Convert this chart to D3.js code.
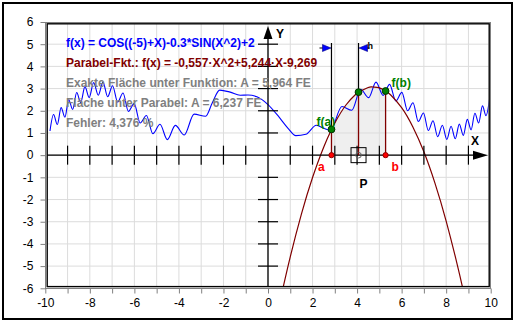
<!DOCTYPE html>
<meta charset="utf-8">
<script src="https://d3js.org/d3.v7.min.js"></script>
<style>
  body { margin: 0; background: #fff; }
  text { font-family: "Liberation Sans", Arial, sans-serif; }
</style>
<div id="chart"></div>
<script>

// function f(x), points (turning points of the wavy curve)
var funcX = [-9.79, -9.63, -9.46, -9.29, -9.12, -8.95, -8.77, -8.59, -8.41, -8.22,
             -8.03, -7.83, -7.62, -7.41, -7.20, -6.98, -6.75, -6.51, -6.27, -6.01,
             -5.74, -5.46, -5.17, -4.85, -4.52, -4.16, -3.76, -3.32, -2.80, -2.5,
             -2.17, -1.7, -1.25, -0.9, -0.5, 0, 0.5, 0.9, 1.25, 1.7,
             2.17, 2.5, 2.80, 3.32, 3.76, 4.16, 4.52, 4.85, 5.17, 5.46,
             5.74, 6.01, 6.27, 6.51, 6.75, 6.98, 7.20, 7.41, 7.62, 7.83,
             8.03, 8.22, 8.41, 8.59, 8.77, 8.95, 9.12, 9.29, 9.46, 9.63,
             9.79, 9.95];
var funcY = [1.09, 1.83, 1.38, 2.14, 1.71, 2.49, 2.06, 2.82, 2.37, 3.09,
             2.60, 3.27, 2.70, 3.29, 2.63, 3.13, 2.39, 2.80, 1.97, 2.32,
             1.45, 1.79, 0.97, 1.39, 0.70, 1.34, 0.91, 1.85, 1.75, 2.36,
             2.93, 2.84, 2.70, 2.71, 2.63, 2.28, 1.71, 1.21, 0.88, 0.94,
             1.35, 1.21, 1.11, 2.19, 2.02, 2.97, 2.59, 3.29, 2.69, 3.19,
             2.44, 2.83, 2.00, 2.36, 1.52, 1.90, 1.11, 1.55, 0.83, 1.35,
             0.71, 1.30, 0.74, 1.40, 0.89, 1.61, 1.14, 1.89, 1.45, 2.22,
             1.78, 2.54];

// parabola through f(a), f(P), f(b)
var parabX = [0.67, 1, 1.5, 2, 2.5, 2.85, 3, 3.5, 4, 4.065, 4.5, 4.7, 5, 5.28,
              5.5, 6, 6.5, 7, 7.5, 8, 8.5, 8.74];
var parabY = [-6.0, -4.58, -2.66, -1.01, 0.36, 1.15, 1.45, 2.26, 2.80, 2.84, 3.05, 3.07, 3.03, 2.89,
              2.72, 2.14, 1.28, 0.15, -1.27, -2.97, -4.94, -5.98];

// a, P (middle), b and their values
var pointNames = ["a", "P", "b"];
var pointX = [2.85, 4.065, 5.28];
var pointY = [1.16, 2.84, 2.89];

var xTicks = d3.range(-10, 11);
var yTicks = d3.range(-6, 7);

var infoLines = [
  "f(x) = COS((-5)+X)-0.3*SIN(X^2)+2",
  "Parabel-Fkt.: f(x) = -0,557·X^2+5,244·X-9,269",
  "Exakte Fläche unter Funktion: A = 5,964 FE",
  "Fläche unter Parabel: A = 6,237 FE",
  "Fehler: 4,376 %"
];
var infoColors = ["#0000ff", "#800000", "#808080", "#808080", "#808080"];

var width = 515, height = 324;

var svg = d3.select("#chart")
  .append("svg")
    .attr("width", width)
    .attr("height", height);

svg.append("rect").attr("width", width).attr("height", height).attr("fill", "#fff");
// outer border
svg.append("rect")
  .attr("x", 3).attr("y", 3).attr("width", 509).attr("height", 316)
  .attr("fill", "none").attr("stroke", "#000").attr("stroke-width", 2);

var x = d3.scaleLinear().domain([-10, 10]).range([45.3, 490.7]);
var y = d3.scaleLinear().domain([-6, 6]).range([288.3, 22]);

svg.append("defs").append("clipPath").attr("id", "plot")
  .append("rect").attr("x", 47.5).attr("y", 24).attr("width", 441).attr("height", 262.5);

var plot = svg.append("g").attr("clip-path", "url(#plot)");

// shaded area under the parabola between a and b
var shade = parabX.map(function(d, i) { return [d, parabY[i]]; })
  .filter(function(d) { return d[0] >= pointX[0] && d[0] <= pointX[2]; });
plot.append("path")
  .datum(shade)
  .attr("fill", "#efefef")
  .attr("d", d3.area()
    .x(function(d) { return x(d[0]); })
    .y0(y(0))
    .y1(function(d) { return y(d[1]); })
    .curve(d3.curveNatural));

// grid
plot.selectAll(".vgrid").data(xTicks).enter().append("line")
  .attr("x1", function(d) { return x(d); }).attr("x2", function(d) { return x(d); })
  .attr("y1", 22).attr("y2", 289)
  .attr("stroke", "#dcdcdc");
plot.selectAll(".hgrid").data(yTicks).enter().append("line")
  .attr("y1", function(d) { return y(d); }).attr("y2", function(d) { return y(d); })
  .attr("x1", 45).attr("x2", 491)
  .attr("stroke", "#dcdcdc");

// frame axes with the labels
var xAxis = svg.append("g")
  .attr("transform", "translate(0,288.5)")
  .call(d3.axisBottom(x).tickValues(xTicks).tickSize(5).tickPadding(5)
    .tickFormat(function(d) { return d % 2 === 0 ? String(d) : ""; }));
var yAxis = svg.append("g")
  .attr("transform", "translate(45.5,0)")
  .call(d3.axisLeft(y).tickValues(yTicks).tickSize(5).tickPadding(7)
    .tickFormat(function(d) { return String(d); }));
[xAxis, yAxis].forEach(function(g) {
  g.select(".domain").remove();
  g.selectAll("line").attr("stroke", "#808080");
  g.selectAll("text").attr("font-size", 12).attr("fill", "#000")
    .attr("font-family", "'Liberation Sans', Arial, sans-serif");
});

// frame
svg.append("rect")
  .attr("x", 45.5).attr("y", 22.5).attr("width", 445).attr("height", 266)
  .attr("fill", "none").attr("stroke", "#808080");
svg.append("rect")
  .attr("x", 47.2).attr("y", 23.8).attr("width", 442).attr("height", 262.8)
  .attr("fill", "none").attr("stroke", "#000").attr("stroke-width", 1.4);

// coordinate axes
var x0 = x(0), y0 = y(0);
svg.append("line").attr("x1", 47).attr("x2", 474).attr("y1", y0).attr("y2", y0)
  .attr("stroke", "#000").attr("stroke-width", 1.3);
svg.append("line").attr("x1", x0).attr("x2", x0).attr("y1", 287).attr("y2", 38)
  .attr("stroke", "#000").attr("stroke-width", 1.3);
svg.selectAll(".xt").data(xTicks.filter(function(d) { return d > -10 && d < 10 && d !== 0; }))
  .enter().append("line")
  .attr("x1", function(d) { return x(d); }).attr("x2", function(d) { return x(d); })
  .attr("y1", y0 - 9.5).attr("y2", y0 + 9.5)
  .attr("stroke", "#000").attr("stroke-width", 1.2);
svg.selectAll(".yt").data(yTicks.filter(function(d) { return d > -6 && d < 6 && d !== 0; }))
  .enter().append("line")
  .attr("y1", function(d) { return y(d); }).attr("y2", function(d) { return y(d); })
  .attr("x1", x0 - 10).attr("x2", x0 + 10)
  .attr("stroke", "#000").attr("stroke-width", 1.2);
svg.append("path")
  .attr("d", "M473," + (y0 - 4.5) + "L488," + y0 + "L473," + (y0 + 4.5) + "Z")
  .attr("fill", "#000");
svg.append("path")
  .attr("d", "M" + (x0 - 4.5) + ",39L" + x0 + ",26L" + (x0 + 4.5) + ",39Z")
  .attr("fill", "#000");
svg.append("text").attr("x", 471).attr("y", 145).text("X")
  .attr("font-size", 12).attr("font-weight", "bold");
svg.append("text").attr("x", 276).attr("y", 37.5).text("Y")
  .attr("font-size", 12).attr("font-weight", "bold");

// info texts
svg.selectAll(".info").data(infoLines).enter().append("text")
  .attr("x", 66)
  .attr("y", function(d, i) { return 47 + i * 20; })
  .attr("font-size", 12).attr("font-weight", "bold")
  .attr("fill", function(d, i) { return infoColors[i]; })
  .text(function(d) { return d; });

// function curve
plot.append("path")
  .datum(funcX.map(function(d, i) { return [d, funcY[i]]; }))
  .attr("fill", "none")
  .attr("stroke", "#0000ff")
  .attr("stroke-width", 1.1)
  .attr("d", d3.line()
    .x(function(d) { return x(d[0]); })
    .y(function(d) { return y(d[1]); })
    .curve(d3.curveMonotoneX));

// parabola
plot.append("path")
  .datum(parabX.map(function(d, i) { return [d, parabY[i]]; }))
  .attr("fill", "none")
  .attr("stroke", "#800000")
  .attr("stroke-width", 1.2)
  .attr("d", d3.line()
    .x(function(d) { return x(d[0]); })
    .y(function(d) { return y(d[1]); })
    .curve(d3.curveNatural));

// vertical lines
[0, 1].forEach(function(i) {
  svg.append("line")
    .attr("x1", x(pointX[i])).attr("x2", x(pointX[i]))
    .attr("y1", 43).attr("y2", y(pointY[i]))
    .attr("stroke", "#000").attr("stroke-width", 1.2);
});
pointX.forEach(function(d, i) {
  svg.append("line")
    .attr("x1", x(d)).attr("x2", x(d))
    .attr("y1", y(pointY[i])).attr("y2", y0)
    .attr("stroke", "#800000").attr("stroke-width", 1.3);
});

// h markers
var xa = x(pointX[0]), xm = x(pointX[1]);
svg.append("line").attr("x1", xa - 12).attr("x2", xa - 8).attr("y1", 48).attr("y2", 48)
  .attr("stroke", "#000");
svg.append("path")
  .attr("d", "M" + (xa - 9) + ",44.5L" + (xa - 0.5) + ",48L" + (xa - 9) + ",51.5Z")
  .attr("fill", "#0000ff").attr("stroke", "#000080").attr("stroke-width", 0.6);
svg.append("line").attr("x1", xm + 8).attr("x2", xm + 11).attr("y1", 48).attr("y2", 48)
  .attr("stroke", "#000");
svg.append("path")
  .attr("d", "M" + (xm + 9) + ",44.5L" + (xm + 0.5) + ",48L" + (xm + 9) + ",51.5Z")
  .attr("fill", "#0000ff").attr("stroke", "#000080").attr("stroke-width", 0.6);
svg.append("text").attr("x", xm + 9).attr("y", 48.5).text("h")
  .attr("font-size", 9).attr("font-weight", "bold");

// P box
svg.append("rect")
  .attr("x", xm - 7.5).attr("y", y0 - 7.5).attr("width", 15).attr("height", 15)
  .attr("fill", "none").attr("stroke", "#000");
svg.append("circle").attr("cx", xm).attr("cy", y0).attr("r", 2.8)
  .attr("fill", "none").attr("stroke", "#606060");

// markers
svg.selectAll(".fp").data(pointX).enter().append("circle")
  .attr("cx", function(d) { return x(d); })
  .attr("cy", function(d, i) { return y(pointY[i]); })
  .attr("r", 3.4)
  .attr("fill", "#008000").attr("stroke", "#003000");
svg.selectAll(".ap").data([pointX[0], pointX[2]]).enter().append("circle")
  .attr("cx", function(d) { return x(d); })
  .attr("cy", y0)
  .attr("r", 2.6)
  .attr("fill", "#ff0000").attr("stroke", "#900000");

// labels
svg.append("text").attr("x", xa - 15).attr("y", y(pointY[0]) - 3).text("f(a)")
  .attr("font-size", 12).attr("font-weight", "bold").attr("fill", "#008000");
svg.append("text").attr("x", x(pointX[2]) + 6).attr("y", y(pointY[2]) - 4).text("f(b)")
  .attr("font-size", 12).attr("font-weight", "bold").attr("fill", "#008000");
svg.append("text").attr("x", xa - 13.5).attr("y", 171).text(pointNames[0])
  .attr("font-size", 12).attr("font-weight", "bold").attr("fill", "#ff0000");
svg.append("text").attr("x", x(pointX[2]) + 6).attr("y", 171).text(pointNames[2])
  .attr("font-size", 12).attr("font-weight", "bold").attr("fill", "#ff0000");
svg.append("text").attr("x", xm + 1).attr("y", 187.5).text(pointNames[1])
  .attr("font-size", 12).attr("font-weight", "bold").attr("fill", "#000");

</script>
